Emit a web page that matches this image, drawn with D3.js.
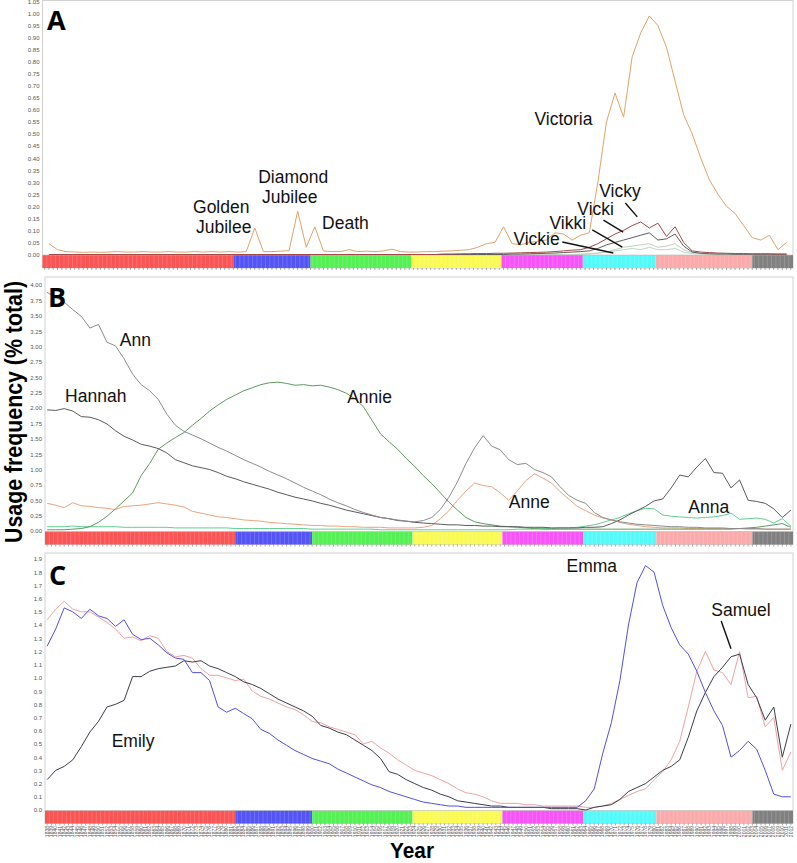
<!DOCTYPE html>
<html><head><meta charset="utf-8">
<script src="https://cdn.jsdelivr.net/npm/d3@7"></script>
<style>body{margin:0;background:#fff}svg{display:block}</style>
</head><body>
<svg id="chart" width="797" height="863"></svg>
<script>
// ---------- DATA ----------
const yearsA = [1839,1841,1843,1845,1847,1849,1851,1853,1855,1857,
1859,1861,1863,1865,1867,1869,1871,1873,1875,1877,
1879,1881,1883,1885,1887,1889,1891,1893,1895,1897,
1899,1901,1903,1905,1907,1909,1911,1913,1915,1917,
1919,1921,1923,1925,1927,1929,1931,1933,1935,1937,
1939,1941,1943,1945,1947,1949,1951,1953,1955,1957,
1959,1961,1963,1965,1967,1969,1971,1973,1975,1977,
1979,1981,1983,1985,1987,1989,1991,1993,1995,1997,
1999,2001,2003,2005,2007,2009,2011];
const yearsBC = [1838,1840,1842,1844,1846,1848,1850,1852,1854,1856,
1858,1860,1862,1864,1866,1868,1870,1872,1874,1876,
1878,1880,1882,1884,1886,1888,1890,1892,1894,1896,
1898,1900,1902,1904,1906,1908,1910,1912,1914,1916,
1918,1920,1922,1924,1926,1928,1930,1932,1934,1936,
1938,1940,1942,1944,1946,1948,1950,1952,1954,1956,
1958,1960,1962,1964,1966,1968,1970,1972,1974,1976,
1978,1980,1982,1984,1986,1988,1990,1992,1994,1996,
1998,2000,2002,2004,2006,2008,2010,2012];

// Panel A
const victoria = [0.045,0.02,0.012,0.01,0.009,0.01,0.009,0.01,0.012,0.01,
0.01,0.012,0.01,0.01,0.012,0.01,0.01,0.012,0.01,0.012,
0.01,0.012,0.01,0.012,0.11,0.012,0.012,0.014,0.016,0.18,
0.03,0.115,0.015,0.012,0.012,0.02,0.012,0.014,0.012,0.015,
0.022,0.012,0.01,0.01,0.012,0.012,0.014,0.015,0.018,0.02,
0.03,0.045,0.05,0.115,0.045,0.04,0.05,0.055,0.06,0.09,
0.085,0.06,0.08,0.09,0.30,0.55,0.67,0.57,0.82,0.92,
0.99,0.95,0.86,0.72,0.58,0.50,0.40,0.31,0.25,0.20,
0.17,0.12,0.07,0.06,0.08,0.02,0.05];
const vicky = [0,0,0,0,0,0,0,0,0,0,
0,0,0,0,0,0,0,0,0,0,
0,0,0,0,0,0,0,0,0,0,
0,0,0,0,0,0,0,0,0,0,
0,0,0,0,0,0,0.002,0.002,0.003,0.003,
0.004,0.004,0.005,0.005,0.006,0.007,0.008,0.009,0.01,0.012,
0.015,0.018,0.02,0.03,0.045,0.065,0.085,0.10,0.12,0.135,
0.11,0.13,0.075,0.115,0.05,0.015,0.01,0.008,0.006,0.005,
0.004,0.004,0.003,0.003,0.003,0.002,0.002];
const vicki = [0,0,0,0,0,0,0,0,0,0,
0,0,0,0,0,0,0,0,0,0,
0,0,0,0,0,0,0,0,0,0,
0,0,0,0,0,0,0,0,0,0,
0,0,0,0,0,0,0,0,0,0,
0,0,0,0,0.002,0.002,0.003,0.004,0.005,0.006,
0.008,0.01,0.012,0.015,0.025,0.04,0.05,0.06,0.07,0.08,
0.09,0.06,0.065,0.085,0.035,0.01,0.005,0.003,0.002,0.002,
0.001,0.001,0.001,0.001,0.001,0.001,0.001];
const vikki = [0,0,0,0,0,0,0,0,0,0,
0,0,0,0,0,0,0,0,0,0,
0,0,0,0,0,0,0,0,0,0,
0,0,0,0,0,0,0,0,0,0,
0,0,0,0,0,0,0,0,0,0,
0,0,0,0,0,0,0,0,0,0,
0,0,0.002,0.004,0.006,0.01,0.02,0.03,0.035,0.04,
0.045,0.03,0.035,0.045,0.02,0.008,0.004,0.002,0.001,0.001,
0,0,0,0,0,0,0];
const vickie = [0,0,0,0,0,0,0,0,0,0,
0,0,0,0,0,0,0,0,0,0,
0,0,0,0,0,0,0,0,0,0,
0,0,0,0,0,0,0,0,0,0,
0,0,0,0,0,0,0,0,0,0,
0,0,0,0,0,0,0,0,0,0,
0,0,0,0.002,0.005,0.01,0.015,0.02,0.025,0.02,
0.03,0.02,0.02,0.025,0.01,0.004,0.002,0.001,0,0,
0,0,0,0,0,0,0];

// Panel B
const ann = [3.88,3.80,3.72,3.60,3.49,3.30,3.36,3.07,3.01,2.80,
2.55,2.38,2.28,2.14,1.90,1.72,1.62,1.56,1.50,1.43,
1.36,1.30,1.23,1.16,1.10,1.04,0.97,0.91,0.85,0.78,
0.71,0.65,0.59,0.52,0.46,0.41,0.35,0.30,0.26,0.22,
0.20,0.18,0.16,0.15,0.17,0.22,0.35,0.55,0.80,1.10,
1.35,1.55,1.38,1.32,1.16,1.08,1.10,1.00,0.95,0.88,
0.72,0.58,0.50,0.45,0.30,0.22,0.18,0.15,0.13,0.11,
0.10,0.09,0.08,0.07,0.07,0.06,0.06,0.05,0.05,0.05,
0.04,0.04,0.04,0.04,0.03,0.03,0.03,0.03];
const hannah = [1.97,1.96,1.99,1.95,1.86,1.85,1.81,1.74,1.63,1.54,
1.48,1.41,1.38,1.34,1.27,1.16,1.11,1.06,1.03,1.00,
0.95,0.89,0.85,0.80,0.76,0.72,0.68,0.63,0.59,0.55,
0.52,0.49,0.45,0.42,0.38,0.34,0.31,0.28,0.25,0.22,
0.20,0.17,0.16,0.14,0.13,0.12,0.11,0.10,0.10,0.09,
0.09,0.08,0.08,0.07,0.07,0.07,0.06,0.06,0.06,0.05,
0.05,0.05,0.05,0.06,0.06,0.07,0.12,0.18,0.26,0.33,
0.40,0.49,0.52,0.70,0.91,0.88,1.04,1.18,0.95,0.94,
0.70,0.83,0.50,0.48,0.45,0.36,0.22,0.34];
const annie = [0.02,0.02,0.02,0.03,0.04,0.07,0.14,0.24,0.36,0.49,
0.62,0.90,1.10,1.33,1.43,1.52,1.60,1.72,1.83,1.95,
2.05,2.14,2.21,2.28,2.33,2.38,2.41,2.42,2.40,2.37,
2.38,2.36,2.37,2.34,2.30,2.24,2.15,2.02,1.80,1.58,
1.45,1.33,1.18,1.05,0.90,0.77,0.62,0.47,0.34,0.22,
0.15,0.12,0.10,0.08,0.07,0.06,0.05,0.04,0.03,0.03,
0.03,0.03,0.03,0.03,0.03,0.03,0.03,0.03,0.03,0.03,
0.03,0.03,0.03,0.03,0.03,0.03,0.03,0.03,0.03,0.03,
0.03,0.04,0.05,0.06,0.08,0.10,0.12,0.06];
const anne = [0.45,0.42,0.38,0.46,0.41,0.40,0.38,0.37,0.35,0.40,
0.41,0.42,0.44,0.46,0.44,0.42,0.39,0.32,0.29,0.26,
0.23,0.22,0.20,0.18,0.17,0.16,0.14,0.13,0.12,0.11,
0.10,0.09,0.09,0.08,0.08,0.07,0.07,0.06,0.06,0.06,
0.05,0.05,0.05,0.05,0.06,0.09,0.20,0.33,0.50,0.65,
0.78,0.74,0.72,0.62,0.50,0.65,0.82,0.93,0.86,0.78,
0.64,0.52,0.40,0.33,0.26,0.21,0.18,0.14,0.11,0.09,
0.07,0.06,0.05,0.05,0.05,0.04,0.04,0.04,0.04,0.04,
0.04,0.04,0.03,0.03,0.03,0.03,0.03,0.03];
const anna = [0.07,0.07,0.07,0.08,0.07,0.07,0.07,0.07,0.07,0.06,
0.06,0.06,0.06,0.06,0.06,0.05,0.05,0.05,0.05,0.05,
0.05,0.05,0.04,0.04,0.04,0.04,0.04,0.04,0.04,0.04,
0.04,0.03,0.03,0.03,0.03,0.03,0.03,0.03,0.03,0.02,
0.02,0.02,0.02,0.02,0.02,0.02,0.02,0.02,0.02,0.02,
0.02,0.02,0.02,0.02,0.02,0.03,0.03,0.03,0.04,0.04,
0.05,0.05,0.06,0.08,0.10,0.14,0.18,0.22,0.28,0.33,
0.37,0.36,0.26,0.24,0.23,0.22,0.21,0.22,0.23,0.25,
0.29,0.19,0.20,0.21,0.19,0.13,0.20,0.08];

// Panel C
const emma = [1.24,1.37,1.53,1.50,1.45,1.52,1.47,1.45,1.39,1.44,
1.33,1.29,1.30,1.25,1.19,1.15,1.14,1.04,1.04,0.98,
0.78,0.74,0.77,0.73,0.69,0.61,0.58,0.53,0.49,0.45,
0.42,0.39,0.37,0.35,0.31,0.28,0.25,0.22,0.19,0.17,
0.14,0.12,0.10,0.08,0.06,0.05,0.04,0.03,0.03,0.02,
0.02,0.02,0.02,0.02,0.02,0.02,0.02,0.02,0.02,0.02,
0.02,0.02,0.02,0.07,0.16,0.43,0.66,0.98,1.40,1.72,
1.85,1.80,1.55,1.38,1.25,1.18,1.05,0.89,0.75,0.64,
0.40,0.45,0.52,0.46,0.30,0.12,0.10,0.10];
const emily = [0.23,0.30,0.33,0.38,0.48,0.59,0.67,0.78,0.80,0.83,
1.01,1.01,1.05,1.07,1.08,1.09,1.13,1.12,1.13,1.09,
1.07,1.04,1.01,0.97,0.95,0.92,0.88,0.84,0.81,0.78,
0.75,0.71,0.64,0.62,0.59,0.57,0.53,0.49,0.45,0.39,
0.29,0.27,0.23,0.20,0.17,0.15,0.12,0.10,0.07,0.06,
0.05,0.04,0.03,0.03,0.02,0.02,0.02,0.02,0.02,0.01,
0.01,0.01,0.01,0.00,0.02,0.03,0.04,0.08,0.14,0.17,
0.20,0.25,0.30,0.33,0.38,0.55,0.75,0.89,1.01,1.08,
1.16,1.18,0.95,0.85,0.68,0.78,0.40,0.65];
const samuel = [1.44,1.52,1.58,1.52,1.50,1.50,1.46,1.42,1.37,1.30,
1.31,1.28,1.32,1.30,1.20,1.16,1.17,1.15,1.07,1.02,
1.02,1.00,0.98,0.99,0.90,0.86,0.84,0.81,0.78,0.76,
0.72,0.67,0.66,0.63,0.61,0.59,0.57,0.50,0.52,0.47,
0.43,0.38,0.34,0.30,0.28,0.26,0.23,0.20,0.16,0.13,
0.12,0.10,0.07,0.05,0.05,0.05,0.04,0.04,0.03,0.03,
0.03,0.03,0.03,0.02,0.02,0.03,0.05,0.08,0.11,0.14,
0.16,0.23,0.29,0.38,0.52,0.78,1.05,1.20,1.06,1.04,
0.95,1.20,0.85,0.86,0.63,0.70,0.30,0.44];

// Axis ticks
const ticksA = [0.00,0.05,0.10,0.15,0.20,0.25,0.30,0.35,0.40,0.45,0.50,0.55,0.60,0.65,0.70,0.75,0.80,0.85,0.90,0.95,1.00,1.05];
const ticksB = [0.00,0.25,0.50,0.75,1.00,1.25,1.50,1.75,2.00,2.25,2.50,2.75,3.00,3.25,3.50,3.75,4.00];
const ticksC = [0.0,0.1,0.2,0.3,0.4,0.5,0.6,0.7,0.8,0.9,1.0,1.1,1.2,1.3,1.4,1.5,1.6,1.7,1.8,1.9];
const yearTicks = d3.range(1838, 2013);

// Era colour band
const eraBreaks = [1837.5,1882,1900,1923.5,1944.5,1963.5,1980.5,2003,2012.5];
const eraColors = ["#fb5454","#5454f6","#54f054","#fafa54","#f654f6","#54fafa","#faaaaa","#808080"];

// ---------- DRAW ----------
const svg = d3.select("#chart");
const LBL = "'Liberation Sans', Arial, sans-serif";
const BOLD = "'Open Sans', 'DejaVu Sans', sans-serif";

function drawPanel(p) {
  const x = d3.scaleLinear().domain([1837.5, 2012.5]).range([p.left, p.right]);
  const y = d3.scaleLinear().domain([0, p.yMax]).range([p.zeroY, p.topY]);
  const g = svg.append("g");
  const bandTop = p.zeroY + 0.5, bandH = 13;

  g.append("rect").attr("x", p.left).attr("y", p.boxTop)
    .attr("width", p.right - p.left).attr("height", bandTop + bandH - p.boxTop)
    .attr("fill", "#fff").attr("stroke", "#d2d2d2").attr("stroke-width", 1);

  g.selectAll("rect.era").data(eraColors).join("rect").attr("class", "era")
    .attr("x", (d, i) => x(eraBreaks[i])).attr("y", bandTop)
    .attr("width", (d, i) => x(eraBreaks[i + 1]) - x(eraBreaks[i]))
    .attr("height", bandH).attr("fill", d => d);
  g.selectAll("line.cell").data(yearTicks.slice(0, -1)).join("line").attr("class", "cell")
    .attr("x1", d => x(d + 0.5)).attr("x2", d => x(d + 0.5))
    .attr("y1", bandTop).attr("y2", bandTop + bandH)
    .attr("stroke", "#fff").attr("stroke-opacity", 0.28).attr("stroke-width", 0.6);
  g.append("line").attr("x1", p.left).attr("x2", p.right)
    .attr("y1", bandTop).attr("y2", bandTop).attr("stroke", "#bbb").attr("stroke-width", 0.6);
  g.selectAll("line.yt").data(yearTicks).join("line").attr("class", "yt")
    .attr("x1", d => x(d)).attr("x2", d => x(d))
    .attr("y1", bandTop + bandH).attr("y2", bandTop + bandH + 2)
    .attr("stroke", "#777").attr("stroke-width", 0.6);

  const ax = g.append("g").attr("transform", `translate(${p.left},0)`)
    .call(d3.axisLeft(y).tickValues(p.ticks).tickFormat(p.fmt).tickSize(0).tickPadding(3));
  ax.select(".domain").remove();
  ax.selectAll("text").attr("font-family", LBL).attr("font-size", 6).attr("fill", "#555");

  const line = d3.line().x((d, i) => x(p.years[i])).y(d => y(d));
  p.series.forEach(s => {
    g.append("path").datum(s.values).attr("d", line)
      .attr("fill", "none").attr("stroke", s.color).attr("stroke-width", 1)
      .attr("stroke-linejoin", "round");
  });

  (p.leaders || []).forEach(l => {
    g.append("line").attr("x1", x(l[0])).attr("y1", y(l[1]))
      .attr("x2", x(l[2])).attr("y2", y(l[3]))
      .attr("stroke", "#111").attr("stroke-width", 1.4);
  });

  p.labels.forEach(l => {
    g.append("text").attr("x", x(l.year)).attr("y", y(l.value))
      .attr("font-family", LBL).attr("font-size", 17.5).attr("fill", "#111").text(l.text);
  });

  g.append("text").attr("x", p.letterX).attr("y", p.letterY)
    .attr("font-family", BOLD).attr("font-weight", 700).attr("font-size", 27)
    .attr("fill", "#000").text(p.letter);

  if (p.yearLabels) {
    g.selectAll("text.yl").data(yearTicks).join("text").attr("class", "yl")
      .attr("transform", d => `translate(${x(d) + 1.7},${bandTop + bandH + 2.5}) rotate(-90)`)
      .attr("text-anchor", "end").attr("font-family", LBL)
      .attr("font-size", 5).attr("fill", "#555").text(d => d);
  }
}

drawPanel({
  letter: "A", letterX: 47, letterY: 30,
  left: 42.5, right: 793, boxTop: 0.5, zeroY: 254.5, topY: 1.5, yMax: 1.05,
  ticks: ticksA, fmt: d3.format(".2f"), years: yearsA,
  series: [
    {values: vickie, color: "#b4dcc2"},
    {values: vikki, color: "#c4cec4"},
    {values: vicki, color: "#5e5e5e"},
    {values: vicky, color: "#a4484a"},
    {values: victoria, color: "#e3a366"}
  ],
  leaders: [[1958.7,0.052,1970.6,0.006],[1965.7,0.102,1972.7,0.031],[1968.3,0.143,1972.9,0.093],[1973.4,0.214,1976.2,0.156]],
  labels: [
    {text: "Victoria", year: 1952.2, value: 0.537},
    {text: "Golden", year: 1872.6, value: 0.172},
    {text: "Jubilee", year: 1873.3, value: 0.089},
    {text: "Diamond", year: 1887.8, value: 0.297},
    {text: "Jubilee", year: 1888.7, value: 0.214},
    {text: "Death", year: 1902.7, value: 0.106},
    {text: "Vicky", year: 1967.3, value: 0.239},
    {text: "Vicki", year: 1962.2, value: 0.164},
    {text: "Vikki", year: 1955.7, value: 0.106},
    {text: "Vickie", year: 1947.3, value: 0.039}
  ]
});

drawPanel({
  letter: "B", letterX: 48, letterY: 307,
  left: 45, right: 793, boxTop: 277, zeroY: 531, topY: 285, yMax: 4,
  ticks: ticksB, fmt: d3.format(".2f"), years: yearsBC,
  series: [
    {values: anna, color: "#62cf92"},
    {values: anne, color: "#eba47c"},
    {values: annie, color: "#5c9c5c"},
    {values: hannah, color: "#5a5a5a"},
    {values: ann, color: "#8c8c8c"}
  ],
  labels: [
    {text: "Ann", year: 1855.0, value: 3.008},
    {text: "Hannah", year: 1842.2, value: 2.098},
    {text: "Annie", year: 1908.2, value: 2.081},
    {text: "Anne", year: 1946.0, value: 0.374},
    {text: "Anna", year: 1988.0, value: 0.293}
  ]
});

drawPanel({
  letter: "C", letterX: 49, letterY: 585,
  left: 45, right: 793, boxTop: 553, zeroY: 810, topY: 559, yMax: 1.9,
  ticks: ticksC, fmt: d3.format(".1f"), years: yearsBC, yearLabels: true,
  series: [
    {values: samuel, color: "#f0a2a2"},
    {values: emily, color: "#3c3c4c"},
    {values: emma, color: "#5050e2"}
  ],
  leaders: [[1995.7,1.43,1998.0,1.22]],
  labels: [
    {text: "Emily", year: 1853.1, value: 0.477},
    {text: "Emma", year: 1959.5, value: 1.80},
    {text: "Samuel", year: 1993.4, value: 1.465}
  ]
});

svg.append("text").attr("transform", "translate(22,412) rotate(-90)")
  .attr("text-anchor", "middle").attr("font-family", LBL).attr("font-weight", 700)
  .attr("font-size", 24).attr("textLength", 262).attr("lengthAdjust", "spacingAndGlyphs")
  .attr("fill", "#000").text("Usage frequency (% total)");
svg.append("text").attr("x", 412).attr("y", 858)
  .attr("text-anchor", "middle").attr("font-family", LBL).attr("font-weight", 700)
  .attr("font-size", 22).attr("textLength", 44).attr("lengthAdjust", "spacingAndGlyphs")
  .attr("fill", "#000").text("Year");
</script>
</body></html>
